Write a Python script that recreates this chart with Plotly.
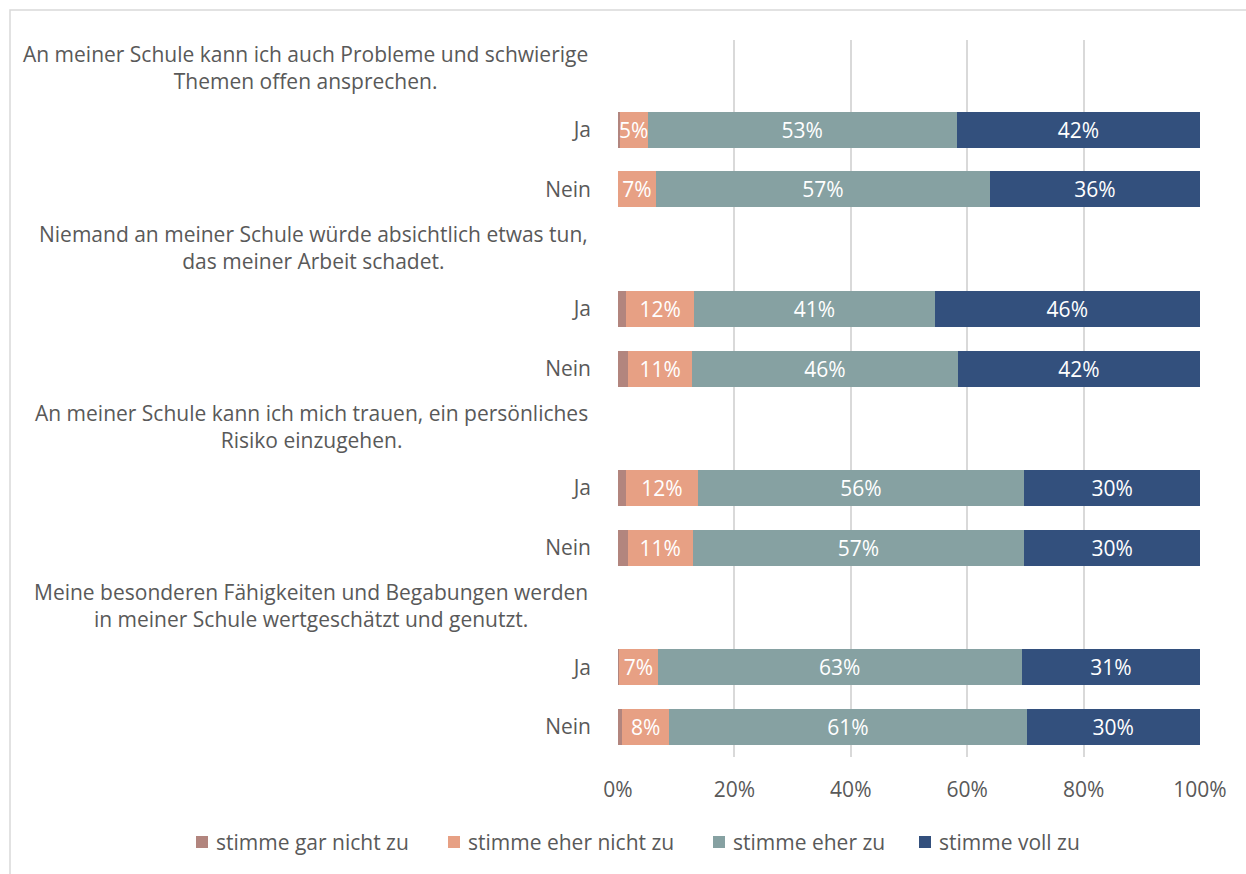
import plotly.graph_objects as go

# Survey statements (each followed by a "Ja" and a "Nein" row)
questions = [
    "An meiner Schule kann ich auch Probleme und schwierige<br>Themen offen ansprechen.",
    "Niemand an meiner Schule würde absichtlich etwas tun,<br>das meiner Arbeit schadet.",
    "An meiner Schule kann ich mich trauen, ein persönliches<br>Risiko einzugehen.",
    "Meine besonderen Fähigkeiten und Begabungen werden<br>in meiner Schule wertgeschätzt und genutzt.",
]
groups = ["Ja", "Nein"]

# Shares in percent, order per statement: Ja, Nein
gar_nicht = [0.3, 0.0, 1.4, 1.8, 1.4, 1.7, 0.2, 0.7]
eher_nicht = [4.8, 6.5, 11.7, 10.9, 12.3, 11.1, 6.6, 8.1]
eher_zu = [53.1, 57.4, 41.3, 45.7, 56.1, 57.0, 62.6, 61.4]
voll_zu = [41.8, 36.1, 45.6, 41.6, 30.2, 30.2, 30.6, 29.8]

x_ticks = [0, 20, 40, 60, 80, 100]
x_tick_text = ["0%", "20%", "40%", "60%", "80%", "100%"]

series = [
    ("stimme gar nicht zu", gar_nicht, "#b2857e", False),
    ("stimme eher nicht zu", eher_nicht, "#e7a084", True),
    ("stimme eher zu", eher_zu, "#86a1a2", True),
    ("stimme voll zu", voll_zu, "#33507d", True),
]

FONT = "Open Sans"
SIZE = 21
GREY = "#595959"

W, H = 1246, 874
M_L, M_R, M_T, M_B = 618, 46, 40, 117
PW, PH = W - M_L - M_R, H - M_T - M_B


def px_x(px):
    """Horizontal pixel position -> paper coordinate."""
    return (px - M_L) / PW


def px_y(py):
    """Vertical pixel position (from top) -> paper coordinate."""
    return (H - M_B - py) / PH


# Row layout: statement row, then Ja, then Nein
bar_rows = []
tick_rows, tick_text = [], []
question_rows = []
r = 0
for q in questions:
    question_rows.append(r)
    r += 1
    for g in groups:
        bar_rows.append(r)
        tick_rows.append(r)
        tick_text.append(g)
        r += 1
n_rows = r

fig = go.Figure()
for name, vals, color, labelled in series:
    fig.add_trace(go.Bar(
        name=name,
        y=bar_rows,
        x=vals,
        orientation="h",
        marker=dict(color=color, line=dict(width=0)),
        width=0.6,
        texttemplate="%{x:.0f}%" if labelled else "",
        textposition="inside" if labelled else "none",
        insidetextanchor="middle",
        textangle=0,
        textfont=dict(family=FONT, size=SIZE, color="white"),
        hoverinfo="skip",
        showlegend=False,
    ))

for row, q in zip(question_rows, questions):
    fig.add_annotation(
        x=0, xref="paper", xanchor="right", xshift=-28,
        y=row, yref="y", yanchor="middle", yshift=2,
        text=q, showarrow=False, align="center",
        font=dict(family=FONT, size=SIZE, color=GREY),
    )

# Legend row under the axis: colour square + label per series
legend_left_px = [196, 448, 713, 919]
legend_mid_px = 842
for (name, _, color, _), lx in zip(series, legend_left_px):
    fig.add_shape(
        type="rect", xref="paper", yref="paper",
        x0=px_x(lx), x1=px_x(lx + 12),
        y0=px_y(legend_mid_px + 6), y1=px_y(legend_mid_px - 6),
        line=dict(width=0), fillcolor=color,
    )
    fig.add_annotation(
        x=px_x(lx + 18), xref="paper", xanchor="left",
        y=px_y(legend_mid_px), yref="paper", yanchor="middle",
        text=name, showarrow=False,
        font=dict(family=FONT, size=SIZE, color=GREY),
    )

# Outer chart frame
fig.add_shape(
    type="rect", xref="paper", yref="paper",
    x0=px_x(10), x1=px_x(W + 20), y0=px_y(H + 20), y1=px_y(10),
    line=dict(color="#d9d9d9", width=1.5), fillcolor="rgba(0,0,0,0)",
    layer="below",
)

fig.update_layout(
    barmode="stack",
    width=W, height=H,
    margin=dict(l=M_L, r=M_R, t=M_T, b=M_B, pad=0),
    paper_bgcolor="white", plot_bgcolor="white",
    font=dict(family=FONT, size=SIZE, color=GREY),
    uniformtext=dict(minsize=SIZE, mode="show"),
    showlegend=False,
    xaxis=dict(
        range=[0, 100], tickvals=x_ticks, ticktext=x_tick_text,
        showgrid=True, gridcolor="#d9d9d9", gridwidth=1.5,
        zeroline=False, showline=False, ticks="",
        ticklabelstandoff=18,
        tickfont=dict(family=FONT, size=SIZE, color=GREY),
        fixedrange=True,
    ),
    yaxis=dict(
        range=[n_rows - 0.5, -0.5],
        tickvals=tick_rows, ticktext=tick_text,
        showgrid=False, zeroline=False, showline=False, ticks="",
        ticklabelstandoff=26,
        tickfont=dict(family=FONT, size=SIZE, color=GREY),
        fixedrange=True,
    ),
)

fig.write_html("out.html")
